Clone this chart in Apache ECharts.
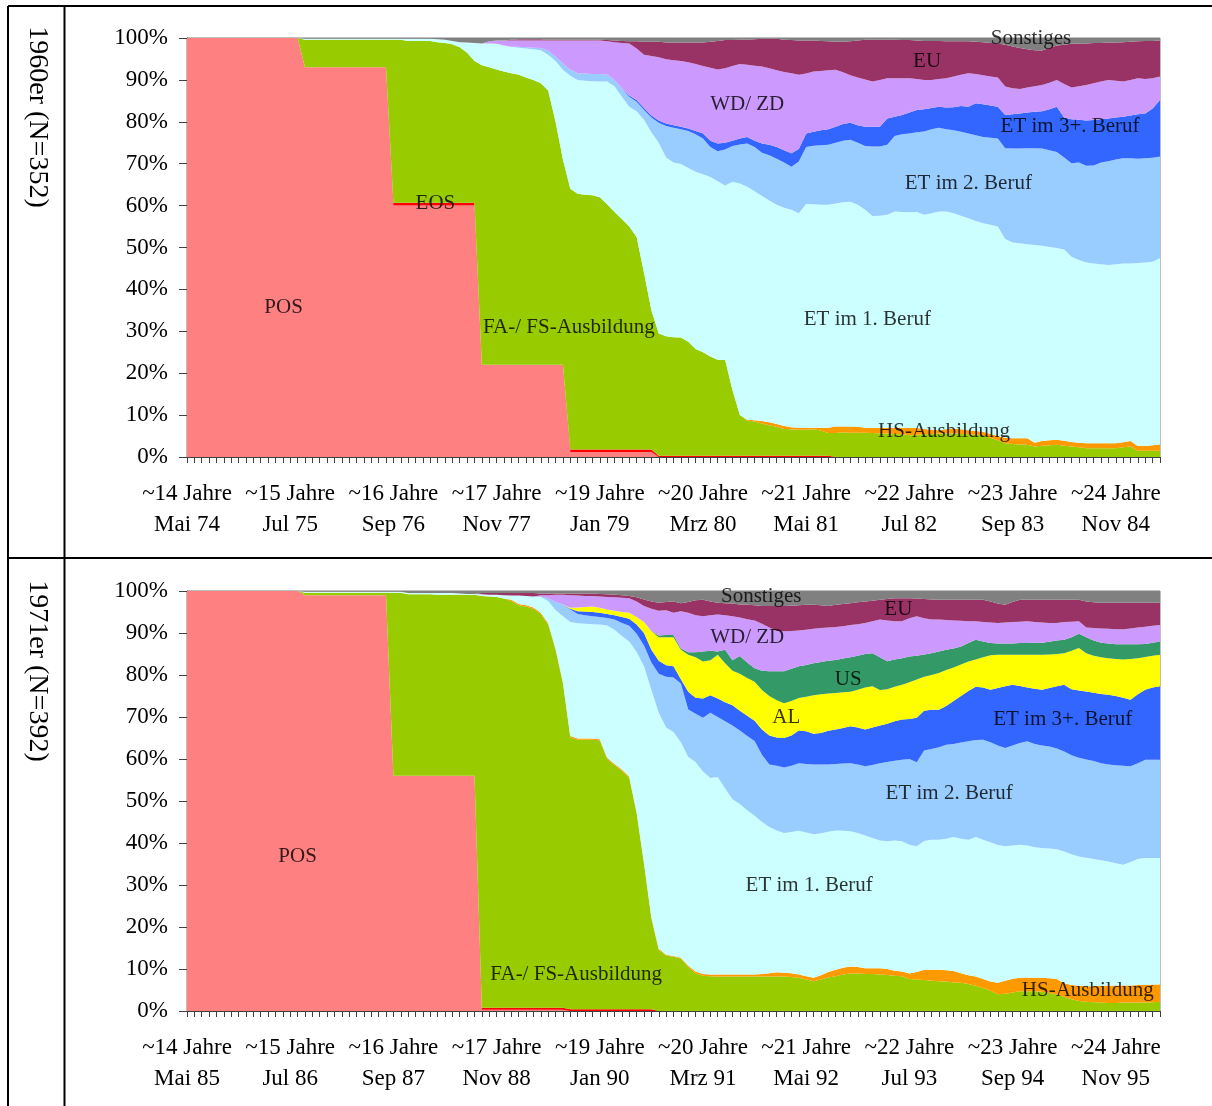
<!DOCTYPE html>
<html lang="de">
<head>
<meta charset="utf-8">
<title>Erwerbsverläufe 1960er / 1971er</title>
<script src="https://cdn.jsdelivr.net/npm/echarts@6/dist/echarts.min.js"></script>
<style>
  html, body { margin: 0; padding: 0; background: #fff; }
  #chart { width: 1212px; height: 1106px; }
</style>
</head>
<body>
<div id="chart"></div>
<script>
// null = Schicht in diesem Monat nicht vorhanden.

// ---------- Kohorte 1960er (Mai 74 .. Mai 85) ----------
const ticks60 = ['~14 Jahre\nMai 74', '~15 Jahre\nJul 75', '~16 Jahre\nSep 76', '~17 Jahre\nNov 77', '~19 Jahre\nJan 79',
  '~20 Jahre\nMrz 80', '~21 Jahre\nMai 81', '~22 Jahre\nJul 82', '~23 Jahre\nSep 83', '~24 Jahre\nNov 84'];

const pos60 = [
  100,100,100,100,100,100,100,100,100,100,100,100,100,100,
  100,100,93,93,93,93,93,93,93,93,93,93,93,93,
  60,60,60,60,60,60,60,60,60,60,60,60,22,22,
  22,22,22,22,22,22,22,22,22,22,1.2,1.2,1.2,1.2,
  1.2,1.2,1.2,1.2,1.2,1.2,1.2,1.2,0,0,0,0,0,0,
  0,0,0,0,0,0,0,0,0,0,0,0,0,0,
  0,0,0,0,0,0,0,0,0,0,0,0,0,0,
  0,0,0,0,0,0,0,0,0,0,0,0,0,0,
  0,0,0,0,0,0,0,0,0,0,0,0,0,0,
  0,0,0,0,0,0,0];
const eos60 = [
  null,null,null,null,null,null,null,null,null,null,null,null,null,null,
  null,null,null,null,null,null,null,null,null,null,null,null,null,null,
  60.7,60.7,60.7,60.7,60.7,60.7,60.7,60.7,60.7,60.7,60.7,60.7,null,null,
  null,null,null,null,null,null,null,null,null,null,1.8,1.8,1.8,1.8,
  1.8,1.8,1.8,1.8,1.8,1.8,1.8,1.8,0.3,0.3,0.3,0.3,0.3,0.3,
  0.3,0.3,0.3,0.3,0.3,0.3,0.3,0.3,0.3,0.3,0.3,0.3,0.3,0.3,
  0.3,0.3,0.3,0.3,null,null,null,null,null,null,null,null,null,null,
  null,null,null,null,null,null,null,null,null,null,null,null,null,null,
  null,null,null,null,null,null,null,null,null,null,null,null,null,null,
  null,null,null,null,null,null,null];
const fa60 = [
  null,null,null,null,null,null,null,null,null,null,null,null,null,null,
  null,null,99.6,99.6,99.6,99.6,99.6,99.6,99.6,99.6,99.6,99.6,99.6,99.6,
  99.6,99.6,99.3,99.3,99.3,99.3,99,98.8,98.5,97.8,96.5,94.5,93.5,93,
  92.5,92,91.6,91.2,90.6,90,89.2,87.5,80,71,64,62.8,62.6,62.5,
  62,60.3,58.5,56.8,55,52.5,44,35,29.5,28.8,28.6,28.5,27.5,25.8,
  25,24,23.2,23.2,16,10,8.7,8.5,8,7.6,7.2,6.7,6.6,6.5,
  6.5,6.6,6.3,5.7,5.7,5.9,5.8,5.8,5.8,5.7,5.6,5.6,5.5,5.4,
  5.2,5.3,5.4,5.5,5.6,5.6,5.6,5.5,5.4,5.3,5.2,4.6,4,3.3,
  3.1,3,2.9,2.5,2.7,2.8,2.9,2.7,2.5,2.3,2.1,2.1,2.1,2.1,
  2.1,2.3,2.5,1.5,1.5,1.5,1.5];
const hs60 = [
  null,null,null,null,null,null,null,null,null,null,null,null,null,null,
  null,null,null,null,null,null,null,null,null,null,null,null,null,null,
  null,null,null,null,null,null,null,null,null,null,null,null,null,null,
  null,null,null,null,null,null,null,null,null,null,null,null,null,null,
  null,null,null,null,null,null,null,null,null,null,null,null,null,null,
  null,null,null,null,null,null,8.9,8.8,8.6,8.3,7.9,7.4,7.1,7,
  7,7,7,7,7.3,7.3,7.3,7.2,7,7,7,7,7,7,
  7,6.9,6.7,6.5,6.4,6.6,6.8,6.6,6.4,6.2,6,5.5,5,4.6,
  4.5,4.5,4.5,3.4,3.8,4,4.1,3.9,3.6,3.4,3.3,3.3,3.3,3.3,
  3.3,3.5,3.8,2.6,2.6,2.8,3];
const et1_60 = [
  null,null,null,null,null,null,null,null,null,null,null,null,null,null,
  null,null,99.8,99.8,99.8,99.8,99.8,99.8,99.8,99.8,99.8,99.8,99.8,99.8,
  99.8,99.8,99.8,99.8,99.8,99.8,99.7,99.6,99.3,99,98.9,98.8,98.7,98.7,
  98.6,98.2,97.9,97.7,97.5,97.3,97.1,96,94.5,92.4,91,90,89.8,89.7,
  89.6,89.6,88.5,86,83.6,82.5,80.5,77.5,75,71.5,70.3,69.9,69,68.1,
  67.5,66.8,65.8,64.8,65.7,65.3,64.5,63.4,62.3,61.2,60.2,59.5,59,58.2,
  60.4,60.3,60.2,60.2,60.5,60.8,60.9,60.2,59,57.5,57.6,57.8,58.6,58.5,
  58.4,58.5,57.8,58.2,58.6,58.6,58.2,57.6,57,56.3,55.8,55.4,55,52,
  51.2,51,50.8,50.6,50.4,50.1,49.9,49.5,47.8,47,46.4,46.2,46,45.8,
  46,46.2,46.2,46.3,46.4,46.6,47.5];
const et2_60 = [
  null,null,null,null,null,null,null,null,null,null,null,null,null,null,
  null,null,null,null,null,null,null,null,null,null,null,null,null,null,
  null,null,null,null,null,null,null,null,null,null,null,null,null,null,
  null,null,null,97.9,97.8,97.7,97.6,97,95.6,93.9,92.5,91.6,91.5,91.4,
  91.4,91.3,90,88,86,84.8,82.8,81,79.8,79,78.6,78.2,77.8,77,
  76,74,73,73.4,74.2,74.6,74.8,74,72.6,72,71.2,70.3,69.3,70.5,
  74,74.3,74.4,74.5,75,75.5,75.7,75,74.2,74.1,74.1,74.5,76.6,77,
  77.2,77.5,77.7,78.2,78.6,78.2,78,77.6,77.2,76.8,76.4,76.2,76,73.7,
  73.6,73.6,73.7,73.7,73.6,73.2,72.8,71.5,70.1,70.3,69.5,69.6,70.3,70.6,
  71,71.3,71.3,71.2,71.3,71.4,71.7];
const et3_60 = [
  null,null,null,null,null,null,null,null,null,null,null,null,null,null,
  null,null,null,null,null,null,null,null,null,null,null,null,null,null,
  null,null,null,null,null,null,null,null,null,null,null,null,null,null,
  null,null,null,null,null,null,null,null,null,null,null,null,null,null,
  null,null,null,null,86.3,85.2,83.3,81.5,80.3,79.6,79.2,78.8,78.4,77.8,
  77.2,75.5,74.8,75,75.5,76,76.4,75.5,74.8,74.5,74,73.2,72.5,73.5,
  77.2,77.6,78,78.2,78.8,79.5,79.8,79.2,78.8,78.8,78.8,80.8,81.2,81.6,
  82.2,82.8,83,83.3,83.6,83.4,83.5,83.8,83.6,84.4,84.2,83.9,83.6,81.6,
  81.8,82,82.2,82.4,82.5,83,83.6,81,80.6,80.5,80.3,80.4,80.6,80.8,
  81,81.2,81.5,81.8,82,83.2,85.2];
const wd60 = [
  null,null,null,null,null,null,null,null,null,null,null,null,null,null,
  null,null,null,null,null,null,null,null,null,null,null,null,null,null,
  null,null,null,null,null,null,null,null,null,null,null,null,null,99.2,
  99.4,99.4,99.4,99.4,99.4,99.4,99.4,99.4,99.4,99.4,99.4,99.4,99.4,99.4,
  99.4,99.2,99,98.8,98.7,97.5,96,95.7,95.4,94.9,94.7,94.5,94.2,93.8,
  93.3,92.9,92.5,92.8,93.3,93.8,93.6,93.4,93.2,92.8,92.3,91.9,91.6,91.2,
  91.5,92,92.1,92.3,92.4,91.8,91.1,90.6,90.1,89.6,90,90.4,90.4,90.4,
  90.4,90.2,90,90,90.2,90.4,90.8,91.2,91.6,91.4,91.1,90.8,90.6,88.4,
  88,87.8,88.2,88.5,88.8,89.3,90,89,88.2,88.5,88.8,89.2,89.6,90,
  89.8,89.6,90,90.4,90.2,90.4,90.8];
const eu60 = [
  null,null,null,null,null,null,null,null,null,null,null,null,null,null,
  null,null,null,null,null,null,null,null,null,null,null,null,null,null,
  null,null,null,null,null,null,null,null,null,null,null,null,null,null,
  null,null,99.6,99.7,99.7,99.7,99.7,99.6,99.6,99.6,99.6,99.6,99.6,99.6,
  99.6,99.5,99.4,99.3,99.2,99.2,99.1,99.1,99.1,98.9,98.9,98.9,98.9,98.9,
  98.9,99.1,99.3,99.5,99.5,99.6,99.6,99.7,99.8,99.8,99.8,99.6,99.5,99.4,
  99.4,99.4,99.3,99.2,99.1,99.1,99.2,99.4,99.6,99.6,99.6,99.6,99.6,99.5,
  99.5,99.4,99.3,99.3,99.3,99.2,99.2,99.2,99.2,99.1,99,98.8,98.7,98.4,
  98,97.6,97.3,97.1,97,97.6,98.2,98.4,98.6,98.7,98.7,98.8,98.8,98.9,
  98.9,99,99.1,99.2,99.3,99.3,99.4];

// ---------- Kohorte 1971er (Mai 85 .. Mai 96) ----------
const ticks71 = ['~14 Jahre\nMai 85', '~15 Jahre\nJul 86', '~16 Jahre\nSep 87', '~17 Jahre\nNov 88', '~19 Jahre\nJan 90',
  '~20 Jahre\nMrz 91', '~21 Jahre\nMai 92', '~22 Jahre\nJul 93', '~23 Jahre\nSep 94', '~24 Jahre\nNov 95'];

const pos71 = [
  100,100,100,100,100,100,100,100,100,100,100,100,100,100,
  100,100,99,99,99,99,99,99,99,99,99,99,99,99,
  56,56,56,56,56,56,56,56,56,56,56,56,0.3,0.3,
  0.3,0.3,0.3,0.3,0.3,0.3,0.3,0.3,0.3,0.3,0,0,0,0,
  0,0,0,0,0,0,0,0,0,0,0,0,0,0,
  0,0,0,0,0,0,0,0,0,0,0,0,0,0,
  0,0,0,0,0,0,0,0,0,0,0,0,0,0,
  0,0,0,0,0,0,0,0,0,0,0,0,0,0,
  0,0,0,0,0,0,0,0,0,0,0,0,0,0,
  0,0,0,0,0,0,0];
const eos71 = [
  null,null,null,null,null,null,null,null,null,null,null,null,null,null,
  null,null,null,null,null,null,null,null,null,null,null,null,null,null,
  null,null,null,null,null,null,null,null,null,null,null,null,0.8,0.8,
  0.8,0.8,0.8,0.8,0.8,0.8,0.8,0.8,0.8,0.8,0.4,0.4,0.4,0.4,
  0.4,0.4,0.4,0.4,0.4,0.4,0.4,0.4,null,null,null,null,null,null,
  null,null,null,null,null,null,null,null,null,null,null,null,null,null,
  null,null,null,null,null,null,null,null,null,null,null,null,null,null,
  null,null,null,null,null,null,null,null,null,null,null,null,null,null,
  null,null,null,null,null,null,null,null,null,null,null,null,null,null,
  null,null,null,null,null,null,null];
const fa71 = [
  null,null,null,null,null,null,null,null,null,null,null,null,null,null,
  null,null,99.6,99.6,99.6,99.6,99.6,99.6,99.6,99.6,99.6,99.6,99.6,99.6,
  99.6,99.6,99.2,99.2,99.2,99.2,99.1,99.1,99.1,99.1,99.1,99.1,98.8,98.7,
  98.6,98.2,97.6,96.6,96.3,95.8,94.5,92,86,78,65.2,64.6,64.6,64.6,
  64.4,60,58.5,57.2,55.5,47,35,22,14.5,13.2,12.9,12.5,10.5,9,
  8.4,8.3,8.2,8.2,8.2,8.2,8.2,8.2,8.2,8.2,8.2,8.2,8.1,7.9,
  7.5,7.1,7.5,8,8.3,8.7,8.9,8.9,8.8,8.8,8.7,8.6,8.4,8.3,
  7.6,7.5,7.4,7.2,7.1,7,6.8,6.7,6.4,6,5.5,4.8,4,4.1,
  4.4,4.7,4.7,4.7,4.6,4.3,3.9,3.4,2.8,2.4,2.2,2.1,2,1.9,
  1.9,2,2,2,2,2.1,2.2];
const hs71 = [
  null,null,null,null,null,null,null,null,null,null,null,null,null,null,
  null,null,null,null,null,null,null,null,null,null,null,null,null,null,
  null,null,null,null,null,null,null,null,null,null,null,null,null,null,
  null,null,97.9,96.9,96.6,96.1,94.8,92.3,86.3,78.3,65.5,64.9,64.9,64.9,
  64.7,60.3,58.8,57.5,55.8,47.3,35.3,22.3,14.8,13.4,13.1,12.7,10.8,9.4,
  8.8,8.7,8.7,8.7,8.7,8.7,8.7,8.7,8.8,9,9.2,9.1,9,8.7,
  8.3,7.9,8.5,9.3,9.8,10.3,10.6,10.5,10.2,10.2,10.2,10,9.6,9.4,
  8.9,9.3,9.8,9.8,9.8,9.7,9.5,9,8.5,8.2,7.6,7,6.7,7.2,
  7.7,7.9,7.9,7.9,7.9,7.8,7.6,6.6,6.2,6,5.9,5.9,6,6,
  6.1,6.1,6.1,6.2,6.2,6.3,6.3];
const et1_71 = [
  null,null,null,null,null,null,null,null,null,null,null,null,null,null,
  null,null,99.8,99.8,99.8,99.8,99.8,99.8,99.8,99.8,99.8,99.8,99.8,99.8,
  99.8,99.8,99.5,99.5,99.5,99.5,99.5,99.5,99.5,99.4,99.3,99.3,99.2,99.1,
  99.1,99,98.9,98.9,98.8,98.7,98.6,97.6,95.5,94,92.6,92.3,92.2,92.1,
  92,91.8,90.8,89.3,88,85.5,82.1,76.5,71,67.5,66.4,64,60.5,59.3,
  57,55.5,55.7,53,50.4,49.3,47.8,46.5,45,43.8,43,42.4,42.6,42.9,
  42.5,42.1,42.3,42.7,43,42.9,42.8,42.4,41.8,41.2,40.6,40.4,40.6,40.4,
  39.6,39.2,40.5,40.8,40.8,41,41.4,41,40.8,41.4,40.8,40.2,39.5,39.2,
  39.4,39.6,39.4,39,38.8,38.7,38.5,38,37.3,36.8,36.5,36.2,35.9,35.6,
  35.2,34.8,35.5,36.2,36.4,36.4,36.4];
const et2_71 = [
  null,null,null,null,null,null,null,null,null,null,null,null,null,null,
  null,null,null,null,null,null,null,null,null,null,null,null,null,null,
  null,null,null,null,null,null,null,null,null,null,null,null,null,null,
  null,null,null,null,null,null,98.7,98.3,97.4,96.8,95.6,94.5,94.2,94,
  93.8,93.6,93.2,92.4,91.7,89.8,87,83,80.3,79.6,79.4,78,71.8,70.8,
  69.8,71,70,69,68,66.8,65.5,64.3,61,58.7,58.4,58,58.4,59,
  58.8,58.7,58.7,58.7,58.8,58.9,59,58.7,58.3,58.6,59,59.3,59.6,59.8,
  60,59.2,62,62.4,62.8,63.4,63.6,63.9,64.2,64.5,64.6,64,63.2,62.6,
  63.2,63.8,64.2,63.6,63.2,63,62.5,61.8,60.9,60.3,59.9,59.5,59,58.7,
  58.5,58.4,58.3,59,59.8,59.8,59.8];
const et3_71 = [
  null,null,null,null,null,null,null,null,null,null,null,null,null,null,
  null,null,null,null,null,null,null,null,null,null,null,null,null,null,
  null,null,null,null,null,null,null,null,null,null,null,null,null,null,
  null,null,null,null,null,null,null,null,null,null,95.8,95.2,95.1,95,
  94.8,94.5,94.2,93.8,93.4,92,90,86,83.4,82.3,82.1,79,76,74.6,
  74.4,75.2,74.4,73.5,72.8,71.5,70.3,69.1,67,65.6,65.1,65,65.6,66.8,
  66.6,66,66.2,66.7,67,67.4,67.8,67.5,67,67.5,68,68.4,69,69.4,
  69.5,69.8,71.5,71.7,71.7,72.6,73.8,75,76.2,77.2,77,76.5,76.9,77.3,
  77.7,77.4,77,76.7,76.5,76.9,77.3,77.7,76.6,76.3,76.1,75.8,75.5,75.3,
  75,74.6,74.1,75.4,76.5,77,77.3];
const al71 = [
  null,null,null,null,null,null,null,null,null,null,null,null,null,null,
  null,null,null,null,null,null,null,null,null,null,null,null,null,null,
  null,null,null,null,null,null,null,null,null,null,null,null,null,null,
  null,null,null,null,null,null,null,null,null,null,96,96.1,96.2,96.3,
  96,95.6,95.3,95,94.8,93.8,92.6,90.5,89,89,89,86,84.8,84.2,
  83.2,83.5,84.8,82.8,81,80.3,79.3,78.4,76.4,75,74,73.3,73.8,74.5,
  74.8,75.2,75.4,75.6,75.7,75.9,76,76.5,77,77.3,76.4,76.6,77.2,77.7,
  78.3,78.9,79.6,80,80.5,81.2,81.8,82.5,83.2,83.7,84.2,84.7,84.8,84.8,
  84.8,84.8,84.8,84.8,84.8,84.9,85,85.2,85.8,86.4,85.2,84.6,84.2,84,
  83.8,83.7,83.8,84,84.3,84.6,84.8];
const us71 = [
  null,null,null,null,null,null,null,null,null,null,null,null,null,null,
  null,null,null,null,null,null,null,null,null,null,null,null,null,null,
  null,null,null,null,null,null,null,null,null,null,null,null,null,null,
  null,null,null,null,null,null,null,null,null,null,null,null,null,null,
  null,null,null,null,null,null,null,null,89.4,89.5,89.5,86.3,85.4,85.4,
  85.6,85.8,85.6,86,83.5,84.5,83,81.6,81,80.9,80.9,80.9,81.5,82.1,
  82.4,82.8,83.1,83.4,83.6,83.9,84.2,84.6,85,85.2,84.2,83.3,83.7,84,
  84.4,84.6,84.9,85.2,85.6,86,86.3,86.8,87.6,88.4,88,87.6,87.5,87.5,
  87.5,87.6,87.6,87.7,87.7,87.9,88.2,88.4,89,89.8,89,88.2,87.7,87.5,
  87.3,87.3,87.3,87.3,87.4,87.7,88];
const wd71 = [
  null,null,null,null,null,null,null,null,null,null,null,null,null,null,
  null,null,null,null,null,null,null,null,null,null,null,null,null,null,
  null,null,null,null,null,null,null,null,null,null,null,null,null,null,
  null,null,null,null,null,null,99,99,99.1,99.1,99,98.9,98.8,98.8,
  98.7,98.6,98.5,98.4,98.3,97.5,96.4,95.8,95.3,95.4,94.8,95.2,94.8,94.2,
  94,94.2,94.4,94.2,94,93.7,93.3,93,92.2,91.3,90.5,90.4,90.5,90.6,
  90.8,91,91.2,91.3,91.4,91.6,91.9,92.1,92.4,92.8,93.2,93,92.8,92.8,
  93.5,94,93.5,93.2,93.2,93.1,93,92.9,92.8,92.8,92.6,92.5,92.4,92.5,
  92.6,92.7,92.8,92.6,92.5,92.4,92.4,92.6,92.7,92.8,91.3,91.2,91.1,91,
  90.9,90.9,91.1,91.3,91.5,91.7,91.9];
const eu71 = [
  null,null,null,null,null,null,null,null,null,null,null,null,null,null,
  null,null,null,null,null,null,null,null,null,null,null,null,null,null,
  null,null,null,null,null,null,null,null,null,null,null,null,99.5,99.5,
  99.5,99.5,99.5,99.5,99.5,99.5,99.4,99.4,99.4,99.4,99.4,99.4,99.4,99.4,
  99.3,99.2,99.1,99,98.8,98.5,98,97.5,97.2,97.4,97.5,97.1,97.4,97.8,
  97.9,97.5,97.2,97.1,97,96.8,96.7,96.6,96.4,96.4,96.4,96.4,96.5,96.6,
  96.7,96.7,96.6,96.4,96.7,96.9,97.1,97.3,97.5,97.7,97.9,98.1,98.3,98.3,
  98.3,98.2,98.1,98,97.9,97.9,97.9,97.9,97.9,97.9,97.9,97.5,97,96.7,
  97.4,97.9,97.9,97.9,97.9,97.9,97.9,97.9,97.9,97.9,97.5,97.3,97.2,97.2,
  97.2,97.2,97.2,97.2,97.2,97.2,97.2];

// Beschriftungen im Diagramm: [Text, Monatsindex, %]
const labels60 = [
  ['Sonstiges', 114.5, 100], ['EU', 100.4, 94.3], ['WD/ ZD', 76, 84.2], ['ET im 3+. Beruf', 119.8, 78.8],
  ['ET im 2. Beruf', 106, 65.2], ['EOS', 33.7, 60.4], ['POS', 13.1, 35.8], ['FA-/ FS-Ausbildung', 51.8, 30.8],
  ['ET im 1. Beruf', 92.3, 32.9], ['HS-Ausbildung', 102.7, 6.2]
];
const labels71 = [
  ['Sonstiges', 77.9, 98.8], ['EU', 96.5, 95.7], ['WD/ ZD', 76, 89], ['US', 89.7, 79], ['AL', 81.3, 70],
  ['ET im 3+. Beruf', 118.8, 69.3], ['ET im 2. Beruf', 103.4, 51.9], ['POS', 15, 36.7],
  ['ET im 1. Beruf', 84.4, 29.8], ['FA-/ FS-Ausbildung', 52.8, 8.6], ['HS-Ausbildung', 122.2, 5]
];

const FONT = '"Liberation Serif", "Times New Roman", serif';
const farben = {
  'POS': '#FF8080', 'EOS': '#FF0000', 'FA-/ FS-Ausbildung': '#99CC00', 'HS-Ausbildung': '#FF9900',
  'ET im 1. Beruf': '#CCFFFF', 'ET im 2. Beruf': '#99CCFF', 'ET im 3+. Beruf': '#3366FF',
  'AL': '#FFFF00', 'US': '#339966', 'WD/ ZD': '#CC99FF', 'EU': '#993366', 'Sonstiges': '#808080'
};
const monate = ['Jan', 'Feb', 'Mrz', 'Apr', 'Mai', 'Jun', 'Jul', 'Aug', 'Sep', 'Okt', 'Nov', 'Dez'];

// Monatskategorien ab Mai des Startjahres
function kategorien(startJahr, anzahl) {
  const out = [];
  for (let i = 0; i < anzahl; i++) {
    const m = 4 + i;
    out.push(monate[m % 12] + ' ' + String((startJahr + Math.floor(m / 12)) % 100).padStart(2, '0'));
  }
  return out;
}

// Aus den oberen Kanten die Anteile je Schicht machen (letzte Schicht = Sonstiges bis 100 %)
function anteile(kanten) {
  const basis = new Array(kanten[0].length).fill(0);
  const res = kanten.map((k) => k.map((v, i) => {
    if (v == null) return 0;
    const a = Math.max(0, v - basis[i]);
    basis[i] = Math.max(basis[i], v);
    return +a.toFixed(2);
  }));
  res.push(basis.map((b) => +(100 - b).toFixed(2)));
  return res;
}

function flaechen(namen, werte, gi) {
  return namen.map((n, k) => ({
    name: n,
    type: 'line',
    xAxisIndex: gi,
    yAxisIndex: gi,
    stack: 'kohorte' + gi,
    data: werte[k],
    symbol: 'none',
    silent: true,
    lineStyle: { width: 0 },
    itemStyle: { color: farben[n] },
    areaStyle: { color: farben[n], opacity: 1 },
    emphasis: { disabled: true }
  }));
}

function beschriftung(liste, gi) {
  return {
    type: 'scatter',
    xAxisIndex: 2 + gi,
    yAxisIndex: gi,
    symbol: 'circle',
    symbolSize: 1,
    silent: true,
    clip: false,
    z: 10,
    itemStyle: { color: 'rgba(0,0,0,0)' },
    data: liste.map(([t, x, y]) => ({ name: t, value: [x, y] })),
    label: {
      show: true, position: 'inside', formatter: (p) => p.name,
      color: '#000', textBorderWidth: 0, fontFamily: FONT, fontSize: 21
    }
  };
}

function xAchse(gi, kat, ticks) {
  return {
    type: 'category', gridIndex: gi, data: kat, boundaryGap: false,
    axisLine: { lineStyle: { color: '#404040', width: 1 } },
    axisTick: { show: true, interval: 0, length: 6, lineStyle: { color: '#404040' } },
    axisLabel: {
      interval: 13, formatter: (v, i) => ticks[i / 14] || '',
      fontFamily: FONT, fontSize: 23, lineHeight: 31, color: '#000', margin: 21
    },
    splitLine: { show: false }
  };
}

function yAchse(gi) {
  return {
    type: 'value', gridIndex: gi, min: 0, max: 100, interval: 10,
    axisLine: { show: true, lineStyle: { color: '#404040' } },
    axisTick: { show: true, length: 8, lineStyle: { color: '#404040' } },
    axisLabel: { formatter: '{value}%', fontFamily: FONT, fontSize: 23, color: '#000', margin: 19 },
    splitLine: { show: false }
  };
}

const namen60 = ['POS', 'EOS', 'FA-/ FS-Ausbildung', 'HS-Ausbildung', 'ET im 1. Beruf', 'ET im 2. Beruf',
  'ET im 3+. Beruf', 'WD/ ZD', 'EU', 'Sonstiges'];
const namen71 = ['POS', 'EOS', 'FA-/ FS-Ausbildung', 'HS-Ausbildung', 'ET im 1. Beruf', 'ET im 2. Beruf',
  'ET im 3+. Beruf', 'AL', 'US', 'WD/ ZD', 'EU', 'Sonstiges'];

const kanten60 = [pos60, eos60, fa60, hs60, et1_60, et2_60, et3_60, wd60, eu60];
const kanten71 = [pos71, eos71, fa71, hs71, et1_71, et2_71, et3_71, al71, us71, wd71, eu71];
kanten60.concat(kanten71).forEach((a, i) => {
  if (a.length !== 133) console.warn('Reihe ' + i + ' hat ' + a.length + ' Werte');
});

const werte60 = anteile(kanten60);
const werte71 = anteile(kanten71);

const rahmen = { stroke: '#000', lineWidth: 2 };
const chart = echarts.init(document.getElementById('chart'), null, { renderer: 'canvas' });

chart.setOption({
  animation: false,
  backgroundColor: '#fff',
  grid: [
    { left: 187, top: 38, width: 973, height: 419, show: true, borderColor: '#808080', borderWidth: 1 },
    { left: 187, top: 591, width: 973, height: 420, show: true, borderColor: '#808080', borderWidth: 1 }
  ],
  xAxis: [
    xAchse(0, kategorien(1974, 133), ticks60),
    xAchse(1, kategorien(1985, 133), ticks71),
    { type: 'value', gridIndex: 0, min: 0, max: 132, show: false },
    { type: 'value', gridIndex: 1, min: 0, max: 132, show: false }
  ],
  yAxis: [yAchse(0), yAchse(1)],
  series: [
    ...flaechen(namen60, werte60, 0),
    ...flaechen(namen71, werte71, 1),
    beschriftung(labels60, 0),
    beschriftung(labels71, 1)
  ],
  graphic: [
    { type: 'line', shape: { x1: 8, y1: 6, x2: 1212, y2: 6 }, style: rahmen, silent: true },
    { type: 'line', shape: { x1: 8, y1: 6, x2: 8, y2: 1106 }, style: rahmen, silent: true },
    { type: 'line', shape: { x1: 64.5, y1: 6, x2: 64.5, y2: 1106 }, style: rahmen, silent: true },
    { type: 'line', shape: { x1: 8, y1: 558, x2: 1212, y2: 558 }, style: rahmen, silent: true },
    {
      type: 'text', x: 37, y: 117, rotation: -Math.PI / 2, silent: true,
      style: { text: '1960er (N=352)', font: '28px ' + FONT, fill: '#000', align: 'center', verticalAlign: 'middle' }
    },
    {
      type: 'text', x: 37, y: 671, rotation: -Math.PI / 2, silent: true,
      style: { text: '1971er (N=392)', font: '28px ' + FONT, fill: '#000', align: 'center', verticalAlign: 'middle' }
    }
  ]
});
</script>
</body>
</html>
